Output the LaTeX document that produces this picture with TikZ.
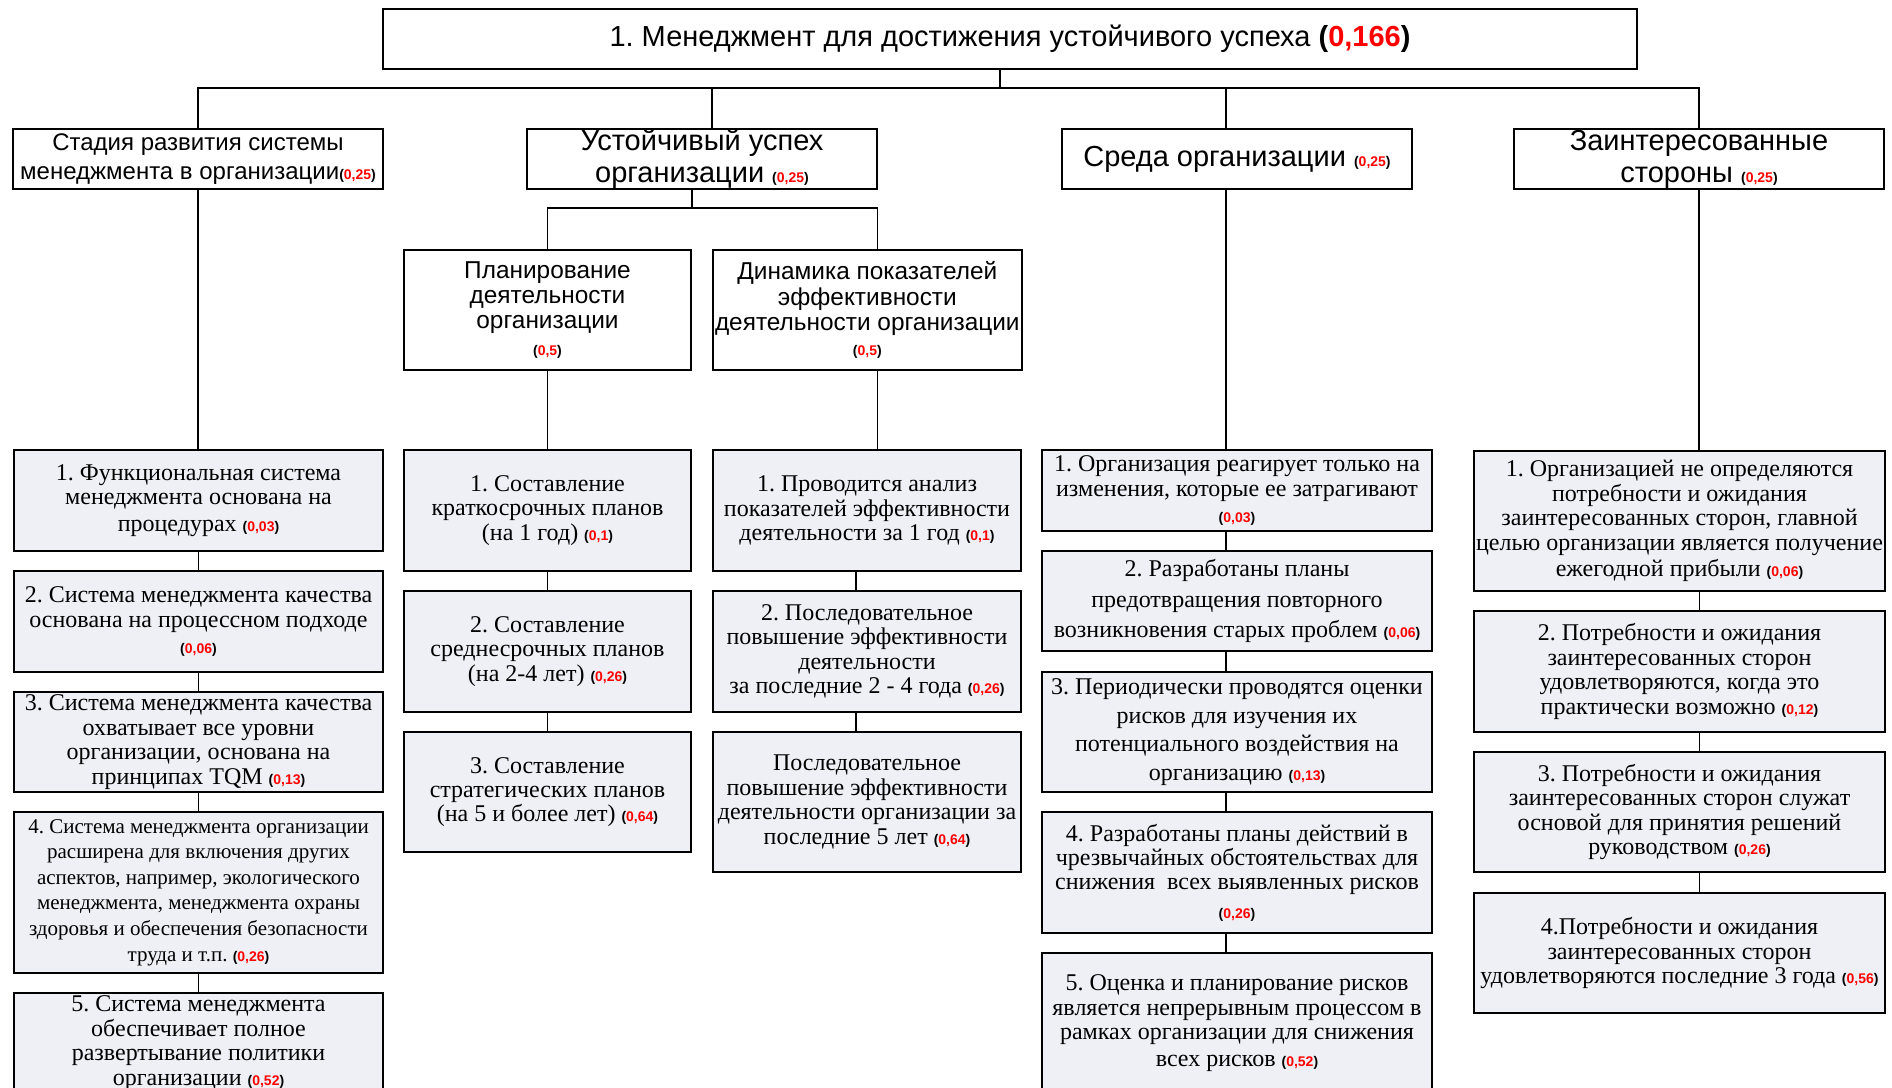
\documentclass[tikz,border=0pt]{standalone}
\usepackage{fontspec}
\setmainfont{Liberation Serif}
\setsansfont{Liberation Sans}
\usepackage{xcolor}
\usetikzlibrary{positioning,calc}
\definecolor{itemfill}{RGB}{238,240,246}
\newcommand{\wt}[1]{{\sffamily\bfseries\fontsize{7}{8}\selectfont(\textcolor{red}{#1})}}
\frenchspacing

\begin{document}
\begin{tikzpicture}[
  x=0.5pt, y=-0.5pt,
  sz/.style 2 args={minimum width=#1*0.5pt, minimum height=#2*0.5pt},
  box/.style={draw, line width=1pt, align=center, inner sep=1pt, anchor=north west},
  head/.style={box, font=\sffamily\fontsize{14.5}{17}\selectfont},
  lvl/.style={box, inner ysep=0pt, font=\sffamily\fontsize{14.5}{16}\selectfont},
  sub/.style={box, font=\sffamily\fontsize{12.2}{12.6}\selectfont},
  item/.style={box, fill=itemfill, font=\fontsize{12}{12.2}\selectfont},
  ln/.style={line width=0.75pt}
]
\useasboundingbox (0,0) rectangle (1892,1088);
\clip (0,0) rectangle (1892,1088);

% ---- Level 1: goal -----------------------------------------------------
\node[head, sz={1254}{60}] (top) at (382,8)
  {1. Менеджмент для достижения устойчивого успеха {\bfseries(\textcolor{red}{0,166})}};

% ---- Level 2: criteria -------------------------------------------------
\node[lvl, font=\sffamily\fontsize{12}{14.5}\selectfont, sz={370}{60}] (stage) at (12,128)
  {Стадия развития системы\\менеджмента в организации\wt{0,25}};
\node[lvl, sz={350}{60}] (success) at (526,128) {Устойчивый успех\\организации \wt{0,25}};
\node[lvl, sz={350}{60}] (env) at (1061,128) {Среда организации \wt{0,25}};
\node[lvl, sz={370}{60}] (stake) at (1513,128) {Заинтересованные\\стороны \wt{0,25}};

% ---- Level 3: sub-criteria of success ----------------------------------
\node[sub, sz={287}{120}] (plan) at (403,249)
  {Планирование\\деятельности\\организации\\[1pt]\wt{0,5}};
\node[sub, sz={308}{120}] (dyn) at (712,249)
  {Динамика показателей\\эффективности\\деятельности организации\\\wt{0,5}};

% ---- Stage of development ----------------------------------------------
\node[item, sz={369}{101}] (st1) at (13,449)
  {1. Функциональная система\\менеджмента основана на\\[1pt]процедурах \wt{0,03}};
\node[item, sz={369}{101}] (st2) at (13,570)
  {2. Система менеджмента качества\\основана на процессном подходе\\[1pt]\wt{0,06}};
\node[item, sz={369}{100}] (st3) at (13,691)
  {3. Система менеджмента качества\\охватывает все уровни\\организации, основана на\\принципах TQM \wt{0,13}};
\node[item, font=\fontsize{10.5}{12.8}\selectfont, sz={369}{161}] (st4) at (13,811)
  {4. Система менеджмента организации\\расширена для включения других\\аспектов, например, экологического\\менеджмента, менеджмента охраны\\здоровья и обеспечения безопасности\\труда и т.п. \wt{0,26}};
\node[item, sz={369}{100}] (st5) at (13,992)
  {5. Система менеджмента\\обеспечивает полное\\развертывание политики\\организации \wt{0,52}};

% ---- Planning ----------------------------------------------------------
\node[item, sz={287}{121}] (pl1) at (403,449)
  {1. Составление\\краткосрочных планов\\(на 1 год) \wt{0,1}};
\node[item, sz={287}{121}] (pl2) at (403,590)
  {2. Составление\\среднесрочных планов\\(на 2-4 лет) \wt{0,26}};
\node[item, sz={287}{120}] (pl3) at (403,731)
  {3. Составление\\стратегических планов\\(на 5 и более лет) \wt{0,64}};

% ---- Performance dynamics ----------------------------------------------
\node[item, sz={308}{121}] (dy1) at (712,449)
  {1. Проводится анализ\\показателей эффективности\\деятельности за 1 год \wt{0,1}};
\node[item, sz={308}{121}] (dy2) at (712,590)
  {2. Последовательное\\повышение эффективности\\деятельности\\за последние 2 - 4 года \wt{0,26}};
\node[item, sz={308}{140}] (dy3) at (712,731)
  {Последовательное\\повышение эффективности\\деятельности организации за\\последние 5 лет \wt{0,64}};

% ---- Environment -------------------------------------------------------
\node[item, sz={390}{81}] (en1) at (1041,449)
  {1. Организация реагирует только на\\изменения, которые ее затрагивают\\[1pt]\wt{0,03}};
\node[item, sz={390}{100}] (en2) at (1041,550)
  {2. Разработаны планы\\[3pt]предотвращения повторного\\[3pt]возникновения старых проблем \wt{0,06}};
\node[item, sz={390}{120}] (en3) at (1041,671)
  {3. Периодически проводятся оценки\\[2pt]рисков для изучения их\\[2pt]потенциального воздействия на\\[2pt]организацию \wt{0,13}};
\node[item, sz={390}{121}] (en4) at (1041,811)
  {4. Разработаны планы действий в\\чрезвычайных обстоятельствах для\\снижения\ \ всех выявленных рисков\\[2pt]\wt{0,26}};
\node[item, sz={390}{140}] (en5) at (1041,952)
  {5. Оценка и планирование рисков\\является непрерывным процессом в\\рамках организации для снижения\\[1pt]всех рисков \wt{0,52}};

% ---- Stakeholders ------------------------------------------------------
\node[item, sz={411}{140}] (sh1) at (1473,450)
  {1. Организацией не определяются\\потребности и ожидания\\заинтересованных сторон, главной\\целью организации является получение\\[1pt]ежегодной прибыли \wt{0,06}};
\node[item, sz={411}{121}] (sh2) at (1473,610)
  {2. Потребности и ожидания\\заинтересованных сторон\\удовлетворяются, когда это\\практически возможно \wt{0,12}};
\node[item, sz={411}{120}] (sh3) at (1473,751)
  {3. Потребности и ожидания\\заинтересованных сторон служат\\основой для принятия решений\\руководством \wt{0,26}};
\node[item, sz={411}{120}] (sh4) at (1473,892)
  {4.Потребности и ожидания\\заинтересованных сторон\\удовлетворяются последние 3 года \wt{0,56}};

% ---- Connectors --------------------------------------------------------
\coordinate (bus) at (0,88);
\coordinate (fork) at (0,208);
\draw[ln] ($(top.south)+(-10,0)$) -- ($(top.south |- bus)+(-10,0)$);
\draw[ln] (stage.north) |- (stake.north |- bus) -- (stake.north);
\foreach \n/\s in {success/10,env/-11}
  \draw[ln] ($(\n.north)+(\s,0)$) -- ($(\n.north |- bus)+(\s,0)$);
\draw[ln] ($(success.south)+(-10,0)$) -- ($(success.south |- fork)+(-10,0)$);
\draw[ln] (plan.north) |- ($(dyn.north |- fork)+(10,0)$) -- ($(dyn.north)+(10,0)$);
\foreach \a/\b/\s in {stage/st1/0,st1/st2/0,st2/st3/0,st3/st4/0,st4/st5/0,
                      plan/pl1/0,pl1/pl2/0,pl2/pl3/0,
                      dyn/dy1/10,dy1/dy2/-11,dy2/dy3/-11,
                      env/en1/-11,en1/en2/-11,en2/en3/-11,en3/en4/-11,en4/en5/-11,
                      stake/sh1/0,sh1/sh2/20,sh2/sh3/20,sh3/sh4/20}
  \draw[ln] ($(\a.south)+(\s,0)$) -- ($(\a.south |- \b.north)+(\s,0)$);
\end{tikzpicture}
\end{document}
